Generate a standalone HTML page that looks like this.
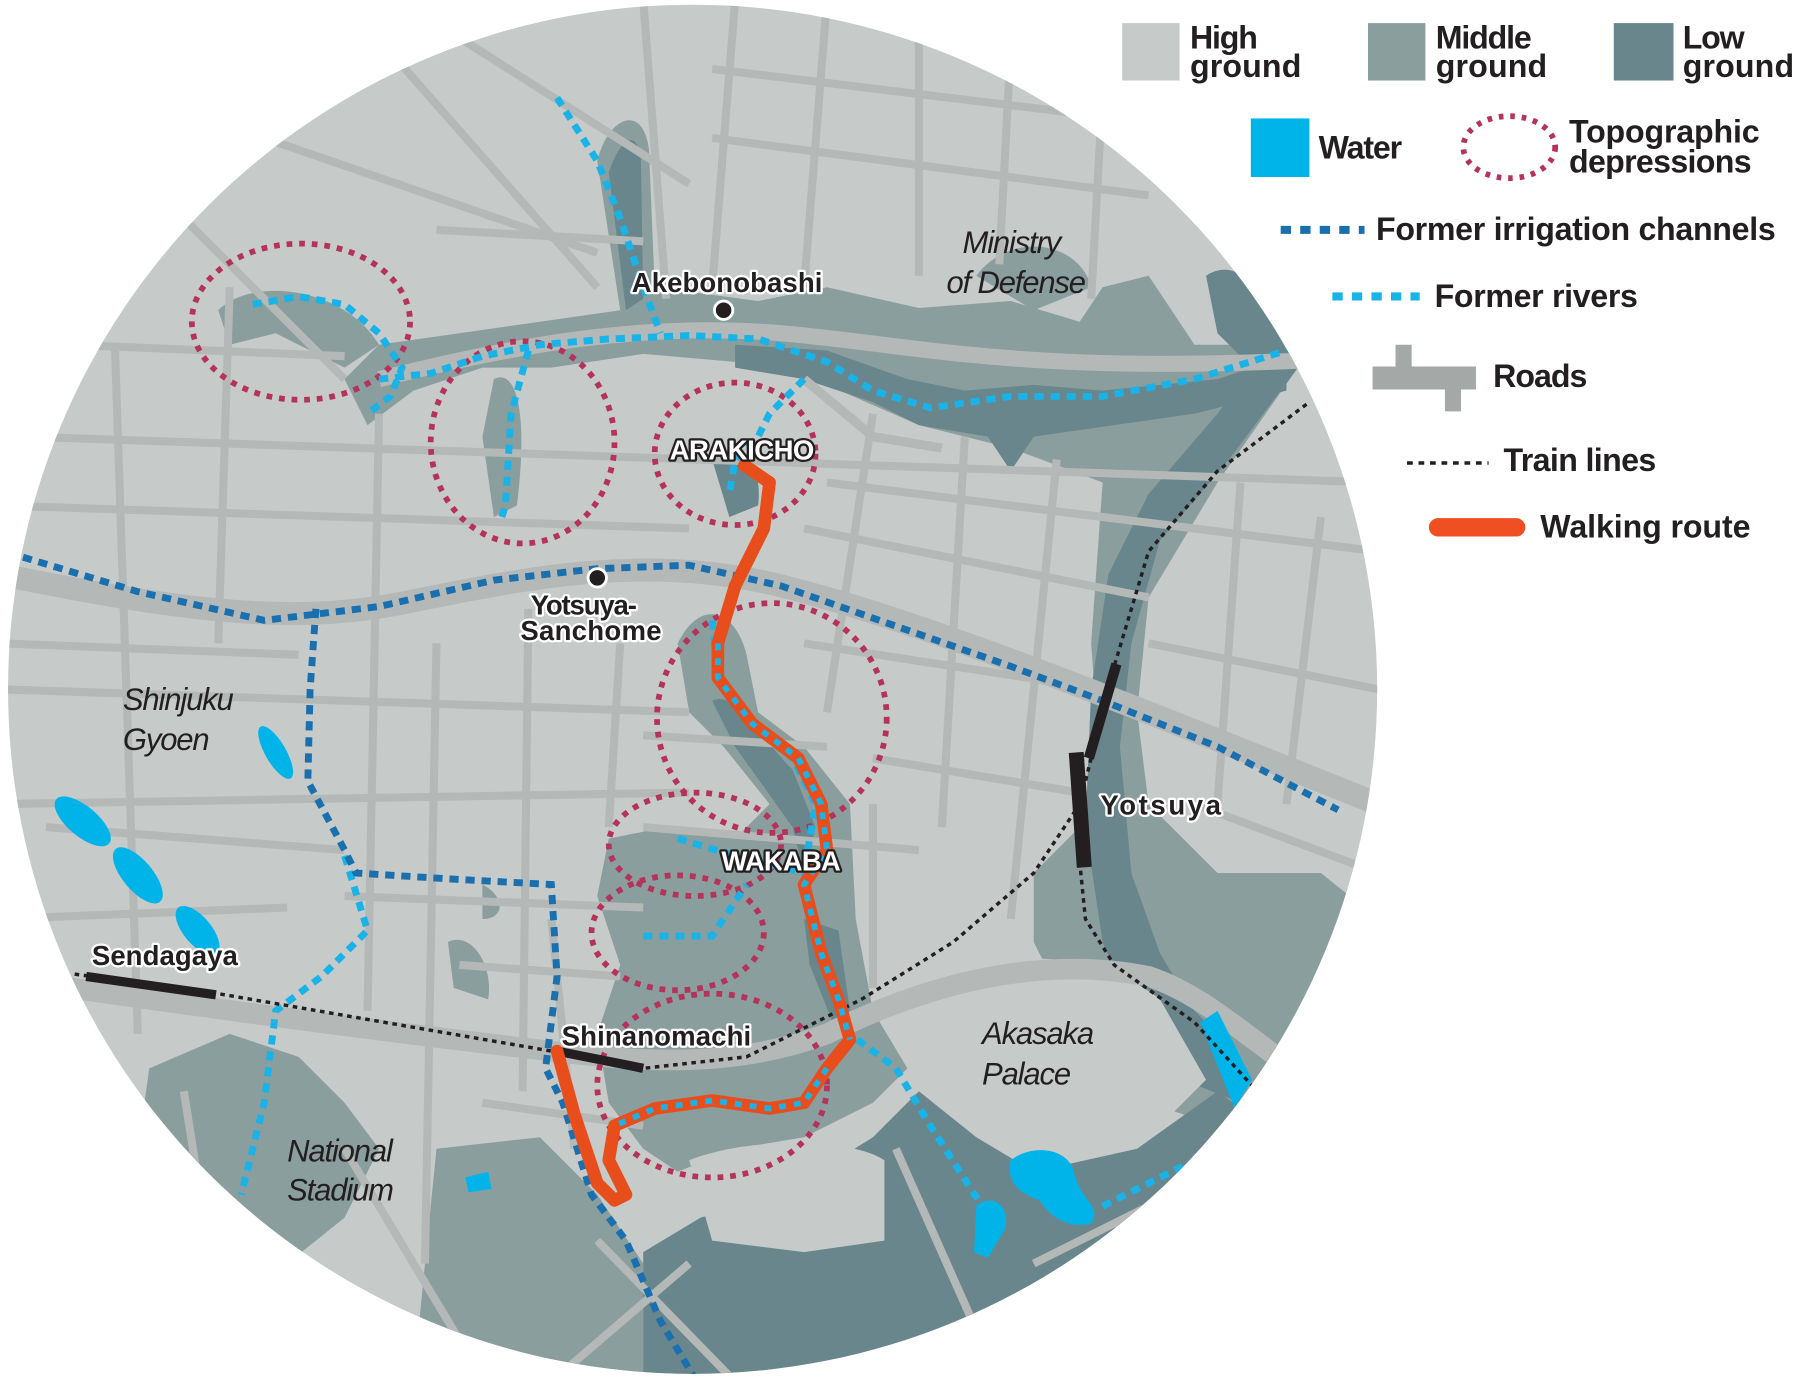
<!DOCTYPE html>
<html><head><meta charset="utf-8"><style>
html,body{margin:0;padding:0;background:#fff;}
svg{display:block}
.lg{font-family:"Liberation Sans",sans-serif;font-weight:bold;fill:#231f20;font-size:28px;letter-spacing:-1px}
.ml{font-family:"Liberation Sans",sans-serif;font-weight:bold;fill:#231f20;font-size:24px;letter-spacing:-1px;paint-order:stroke;stroke:#fff;stroke-width:4px;stroke-linejoin:round}
.mw{font-family:"Liberation Sans",sans-serif;font-weight:bold;fill:#fff;font-size:24px;letter-spacing:-1px;paint-order:stroke;stroke:#231f20;stroke-width:4px;stroke-linejoin:round}
.it{font-family:"Liberation Sans",sans-serif;font-style:italic;fill:#231f20;font-size:27px;letter-spacing:-1px}
</style></head><body>
<svg width="1801" height="1382" viewBox="0 0 1568 1203" xmlns="http://www.w3.org/2000/svg">
<defs><clipPath id="c"><circle cx="603" cy="600" r="596"/></clipPath></defs>
<g clip-path="url(#c)">
<rect x="0" y="0" width="1568" height="1203" fill="#c6cac8"/>
<!-- middle ground -->
<g fill="#8a9e9d">
<path d="M520,140 C530,100 560,90 565,130 L570,250 L660,262 L720,250 L800,268 L880,262 L940,280 L960,250 L1000,240 L1040,300 L1080,300 L1130,320 L1060,420 L1000,520 L990,620 L1000,700 L1060,760 L1150,760 L1200,800 L1200,900 L1100,960 L1060,980 L1000,960 L940,900 L900,820 L900,760 L960,700 L950,560 L960,420 L880,390 L800,370 L720,335 L640,315 L560,308 L480,320 L420,320 L360,340 L320,370 L300,330 L330,300 L400,290 L470,280 L540,270 Z"/>
<path d="M590,560 C610,520 640,530 650,570 L660,620 L700,650 L740,700 L745,800 L760,880 L790,930 L760,960 L700,990 L640,1000 L590,1020 L560,1000 L530,960 L520,900 L540,840 L520,780 L530,730 L580,720 L640,730 L670,700 L630,650 L600,620 Z"/>
<path d="M380,1000 L470,990 L520,1040 L560,1100 L560,1203 L360,1203 L370,1100 Z"/>
<path d="M130,930 L200,900 L260,920 L300,960 L330,1000 L300,1060 L250,1100 L180,1080 L120,1000 Z"/>
<path d="M430,330 C450,320 460,360 450,440 L430,450 L420,380 Z"/>
<path d="M190,270 C220,240 300,250 330,300 L300,320 L240,290 L200,300 Z"/>
<path d="M390,820 C410,810 430,840 425,870 L395,860 Z"/>
<path d="M420,770 C440,780 440,800 420,800 Z"/>
<path d="M850,240 C880,200 940,210 950,250 L900,270 Z"/>
</g>
<!-- low ground -->
<g fill="#68868c">
<path d="M560,1203 L560,1090 L610,1060 L680,1040 L760,990 L800,950 L850,990 L900,1020 L990,1000 L1060,950 L1100,980 L1100,1203 Z"/>
<path d="M1050,240 C1080,220 1110,260 1130,320 L1070,400 L1010,470 L985,560 L975,650 L985,760 L1010,830 L1040,880 L1080,920 L1080,960 L1030,940 L990,890 L960,820 L945,720 L950,600 L965,500 L1000,430 L1060,360 L1090,320 L1060,290 Z"/>
<path d="M640,300 L720,305 L790,330 L840,340 L900,335 L960,340 L1060,330 L1120,310 L1120,340 L1040,360 L970,370 L900,380 L880,410 L860,380 L800,370 L760,350 L700,330 L640,320 Z"/>
<path d="M530,150 C540,120 555,110 558,140 L560,260 L545,270 Z"/>
<path d="M620,610 C640,600 660,640 690,670 L710,720 L700,760 L690,720 L640,650 Z"/>
<path d="M700,800 L730,810 L740,880 L725,890 L705,840 Z"/>
<path d="M620,400 C640,380 665,400 660,440 L635,450 Z"/>
<path d="M150,1080 L230,1100 L300,1140 L330,1203 L140,1203 Z"/>
</g>
<!-- high islands -->
<g fill="#c6cac8">
<path d="M820,860 C870,820 960,830 1010,870 L1050,940 L1000,990 L920,1000 L850,980 L810,930 Z"/>
<path d="M600,1010 C650,990 740,990 770,1010 L770,1080 L700,1090 L620,1080 Z"/>
</g>
<!-- roads -->
<g stroke="#b4b8b7" fill="none" stroke-linecap="butt">
<path d="M0,500 C150,530 250,545 350,525 C450,505 560,480 680,510 C800,540 950,600 1200,700" stroke-width="20"/>
<path d="M60,860 C200,880 350,900 480,915 C560,925 640,930 720,900 C800,860 900,830 1000,850 C1060,870 1100,920 1200,980" stroke-width="18"/>
<path d="M330,330 C450,300 560,280 680,290 C800,300 900,330 1200,310" stroke-width="14"/>
<path d="M700,330 L760,380 L820,390" stroke-width="8"/>
<g stroke-width="7">
<path d="M20,380 L1200,420"/><path d="M0,440 L600,460"/><path d="M0,600 L600,620"/><path d="M0,700 L600,690"/><path d="M300,780 L560,790"/>
<path d="M100,300 L120,900"/><path d="M200,250 L190,560"/><path d="M330,360 L320,880"/><path d="M380,560 L370,1100"/><path d="M460,530 L455,950"/><path d="M540,560 L530,720"/>
<path d="M560,0 L580,260"/><path d="M640,0 L620,250"/><path d="M720,0 L700,250"/><path d="M800,0 L800,240"/><path d="M880,40 L870,230"/><path d="M960,80 L950,260"/>
<path d="M300,0 L520,250"/><path d="M380,20 L600,160"/><path d="M620,120 L1000,170"/><path d="M620,60 L950,100"/><path d="M230,120 L520,220"/>
<path d="M720,420 L1200,480"/><path d="M700,560 L960,600"/><path d="M760,660 L940,690"/><path d="M700,460 L1000,520"/>
<path d="M760,360 L720,620"/><path d="M840,380 L820,720"/><path d="M920,400 L880,800"/><path d="M760,700 L760,860"/>
<path d="M1000,560 L1200,600"/><path d="M1040,700 L1200,760"/><path d="M1080,420 L1060,700"/><path d="M1150,450 L1120,700"/>
<path d="M560,720 L800,740"/><path d="M420,960 L560,980"/><path d="M300,1000 L420,1200"/><path d="M520,1080 L640,1203"/><path d="M600,1100 L480,1203"/>
<path d="M160,950 L200,1200"/><path d="M40,720 L300,740"/><path d="M480,800 L500,1000"/>
<path d="M780,1000 L870,1203"/><path d="M900,1100 L1000,1050"/>
<path d="M150,180 L300,330"/><path d="M60,300 L300,310"/><path d="M0,560 L260,570"/><path d="M0,800 L250,790"/>
<path d="M380,200 L560,210"/><path d="M560,640 L720,650"/><path d="M400,840 L540,850"/>
</g>
</g>
<!-- water -->
<g fill="#00b4ea">
<ellipse cx="240" cy="655" rx="9" ry="26" transform="rotate(-30 240 655)"/>
<ellipse cx="72" cy="715" rx="13" ry="30" transform="rotate(-50 72 715)"/>
<ellipse cx="120" cy="762" rx="13" ry="30" transform="rotate(-40 120 762)"/>
<ellipse cx="172" cy="810" rx="12" ry="26" transform="rotate(-40 172 810)"/>
<path d="M1045,890 L1060,880 L1090,940 L1075,965 Z"/>
<path d="M880,1010 C900,995 930,1000 935,1020 C940,1045 960,1050 950,1065 C930,1070 915,1060 905,1045 C890,1040 875,1030 880,1010 Z"/>
<path d="M850,1050 C860,1040 880,1045 875,1070 L860,1095 L848,1090 Z"/>
<path d="M405,1025 L425,1020 L428,1035 L408,1038 Z"/>
</g>
<!-- depressions -->
<g fill="none" stroke="#b5335a" stroke-width="5" stroke-dasharray="5 6">
<ellipse cx="262" cy="280" rx="95" ry="68"/>
<ellipse cx="455" cy="385" rx="80" ry="88"/>
<ellipse cx="640" cy="395" rx="70" ry="62"/>
<ellipse cx="672" cy="625" rx="100" ry="100"/>
<ellipse cx="605" cy="735" rx="75" ry="45"/>
<ellipse cx="590" cy="812" rx="75" ry="50"/>
<ellipse cx="620" cy="945" rx="100" ry="80"/>
</g>
<!-- rivers -->
<g fill="none" stroke="#1ab3e8" stroke-width="6" stroke-dasharray="8 6">
<path d="M485,85 L520,140 L540,190 L560,250 L575,290"/>
<path d="M330,330 L375,325 L420,310 L470,300 L530,295 L600,292 L660,295 L720,315 L760,340 L810,355 L880,345 L960,345 L1040,330 L1120,305"/>
<path d="M220,265 L260,258 L300,265 L330,290 L350,320 L340,345 L320,360"/>
<path d="M460,305 L445,360 L440,440 L437,450"/>
<path d="M700,330 L670,360 L660,380 L640,400 L635,430"/>
<path d="M620,540 L625,590 L650,625 L690,660 L710,700 L700,760 L715,830 L740,900 L780,930 L810,980 L855,1050"/>
<path d="M590,730 L640,745 L700,760"/>
<path d="M560,815 L620,815 L650,770"/>
<path d="M300,745 L320,810 L280,850 L240,880 L230,960 L210,1040"/>
<path d="M960,1050 L1000,1030 L1030,1015"/>
</g>
<!-- irrigation -->
<g fill="none" stroke="#1a6fae" stroke-width="6" stroke-dasharray="8 6">
<path d="M20,485 L120,515 L230,540 L330,528 L430,505 L520,495 L600,492 L680,510 L780,545 L880,580 L960,610 L1060,650 L1165,705"/>
<path d="M275,530 L270,600 L268,680 L300,740 L310,760 L390,765 L480,770 L485,850 L475,930 L490,960 L515,1040 L545,1080 L575,1150 L605,1200"/>
</g>
<!-- train -->
<g fill="none" stroke="#231f20" stroke-width="3" stroke-dasharray="4 4">
<path d="M65,848 L190,865 L480,915 L560,930 L650,920 L750,870 L830,820 L900,760 L940,700 L970,580 L1000,480 L1060,410 L1140,350"/>
<path d="M940,750 L945,800 L970,840 L1040,890 L1090,945"/>
</g>
<g stroke="#231f20" stroke-linecap="butt">
<path d="M75,850 L188,866" stroke-width="8"/>
<path d="M485,915 L560,930" stroke-width="8"/>
<path d="M972,578 L948,660" stroke-width="9"/>
<path d="M937,655 L944,755" stroke-width="13"/>
</g>
<!-- route -->
<path d="M648,405 L670,420 L665,460 L640,510 L625,560 L625,590 L655,630 L695,660 L715,700 L720,740 L700,770 L715,830 L730,870 L740,905 L720,930 L700,960 L670,965 L620,958 L570,965 L535,980 L530,1010 L545,1040 L535,1045 L520,1030 L500,970 L485,915" fill="none" stroke="#e84e1b" stroke-width="11" stroke-linejoin="round" stroke-linecap="round"/>
<g fill="none" stroke="#1ab3e8" stroke-width="5" stroke-dasharray="6 7">
<path d="M625,560 L625,590 L655,630 L695,660 L715,700 L720,740 L700,770 L715,830 L730,870 L740,905"/>
<path d="M720,930 L700,960 L670,965 L620,958 L570,965 L535,980"/>
</g>
<!-- dots -->
<circle cx="630" cy="270" r="8" fill="#231f20" stroke="#fff" stroke-width="2.5"/>
<circle cx="520" cy="503" r="8" fill="#231f20" stroke="#fff" stroke-width="2.5"/>
<!-- labels -->
<text class="ml" x="550" y="254" textLength="165">Akebonobashi</text>
<text class="it" x="838" y="220">Ministry</text>
<text class="it" x="824" y="255">of Defense</text>
<text class="mw" x="583" y="400" textLength="125">ARAKICHO</text>
<text class="ml" x="462" y="535">Yotsuya-</text>
<text class="ml" x="453" y="557" textLength="122">Sanchome</text>
<text class="it" x="107" y="618">Shinjuku</text>
<text class="it" x="107" y="653">Gyoen</text>
<text class="ml" x="958" y="709" textLength="104">Yotsuya</text>
<text class="mw" x="628" y="758" textLength="103">WAKABA</text>
<text class="ml" x="80" y="840" textLength="126">Sendagaya</text>
<text class="ml" x="489" y="910" textLength="164">Shinanomachi</text>
<text class="it" x="855" y="909">Akasaka</text>
<text class="it" x="855" y="944">Palace</text>
<text class="it" x="250" y="1011">National</text>
<text class="it" x="250" y="1045">Stadium</text>
</g>
<!-- legend -->
<rect x="977" y="20" width="50" height="50" fill="#c6cac8"/>
<rect x="1191" y="20" width="50" height="50" fill="#8a9e9d"/>
<rect x="1405" y="20" width="52" height="50" fill="#68868c"/>
<text class="lg" x="1036" y="42">High</text><text class="lg" x="1036" y="67" textLength="96">ground</text>
<text class="lg" x="1250" y="42">Middle</text><text class="lg" x="1250" y="67" textLength="96">ground</text>
<text class="lg" x="1465" y="42">Low</text><text class="lg" x="1465" y="67" textLength="96">ground</text>
<rect x="1089" y="103" width="51" height="51" fill="#00b4ea"/>
<text class="lg" x="1148" y="138">Water</text>
<ellipse cx="1314" cy="128" rx="40" ry="27" fill="none" stroke="#b5335a" stroke-width="5" stroke-dasharray="4 6"/>
<text class="lg" x="1366" y="124" textLength="165">Topographic</text><text class="lg" x="1366" y="150" textLength="158">depressions</text>
<line x1="1115" y1="200" x2="1188" y2="200" stroke="#1a6fae" stroke-width="7" stroke-dasharray="9 8"/>
<text class="lg" x="1198" y="209" textLength="347">Former irrigation channels</text>
<line x1="1160" y1="258" x2="1236" y2="258" stroke="#1ab3e8" stroke-width="7" stroke-dasharray="9 8"/>
<text class="lg" x="1249" y="267" textLength="176">Former rivers</text>
<path d="M1195,319 H1285 V339 H1272 V358 H1258 V339 H1195 Z M1215,300 H1229 V319 H1215 Z" fill="#a4a8a7"/>
<text class="lg" x="1300" y="337" textLength="81">Roads</text>
<line x1="1225" y1="403" x2="1296" y2="403" stroke="#231f20" stroke-width="3" stroke-dasharray="5 5"/>
<text class="lg" x="1309" y="410" textLength="132">Train lines</text>
<line x1="1252" y1="459" x2="1320" y2="459" stroke="#f04e23" stroke-width="16" stroke-linecap="round"/>
<text class="lg" x="1341" y="468" textLength="182">Walking route</text>
</svg>
</body></html>
